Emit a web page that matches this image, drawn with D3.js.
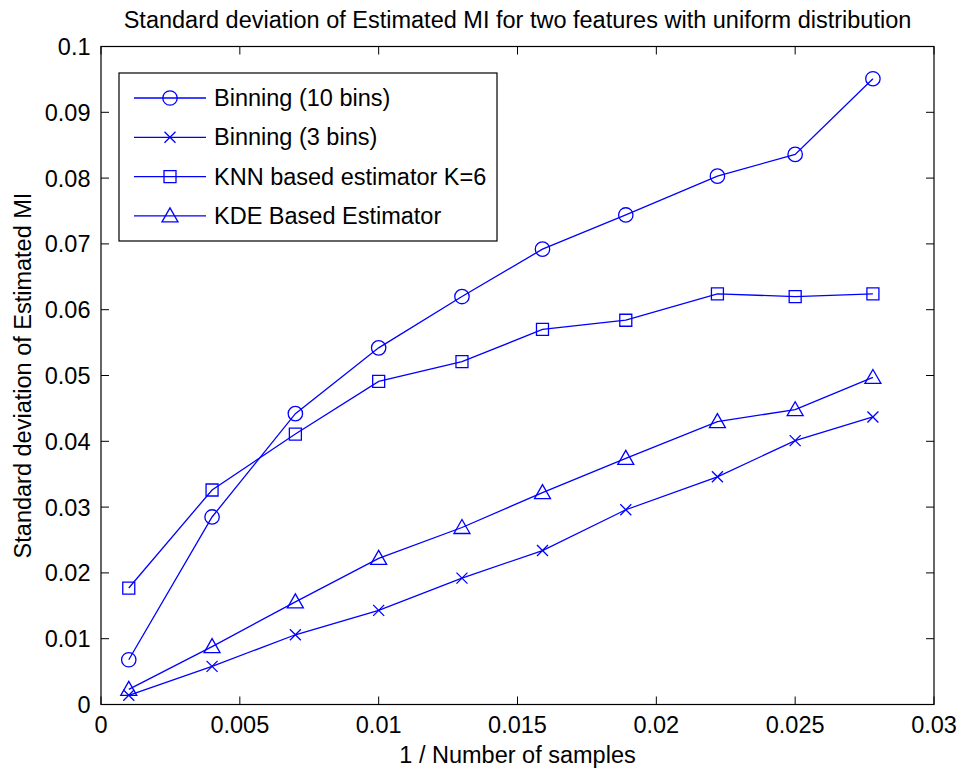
<!DOCTYPE html>
<html><head><meta charset="utf-8">
<script src="https://cdn.jsdelivr.net/npm/d3@7"></script>
<style>
body{margin:0;background:#fff;}
text{font-family:"Liberation Sans",Arial,Helvetica,sans-serif;fill:#000;}
</style></head>
<body><svg id="c" width="963" height="772"></svg>
<script>
const xValues = [0.001, 0.004, 0.007, 0.01, 0.013, 0.0159, 0.0189, 0.0222, 0.025, 0.0278];
const binning10 = [0.0068, 0.0285, 0.0442, 0.0542, 0.0620, 0.0692, 0.0744, 0.0803, 0.0836, 0.0951];
const binning3 = [0.0014, 0.0058, 0.0106, 0.0143, 0.0192, 0.0234, 0.0296, 0.0346, 0.0401, 0.0437];
const knn6 = [0.0177, 0.0326, 0.0411, 0.0491, 0.0521, 0.0570, 0.0584, 0.0624, 0.0620, 0.0624];
const kde = [0.0023, 0.0088, 0.0156, 0.0222, 0.0269, 0.0322, 0.0374, 0.0430, 0.0448, 0.0497];
const seriesNames = ["Binning (10 bins)", "Binning (3 bins)", "KNN based estimator K=6", "KDE Based Estimator"];
const markerTypes = ["circle", "cross", "square", "triangle"];
const xTicks = [0, 0.005, 0.01, 0.015, 0.02, 0.025, 0.03];
const xTickLabels = ["0", "0.005", "0.01", "0.015", "0.02", "0.025", "0.03"];
const yTicks = [0, 0.01, 0.02, 0.03, 0.04, 0.05, 0.06, 0.07, 0.08, 0.09, 0.1];
const yTickLabels = ["0", "0.01", "0.02", "0.03", "0.04", "0.05", "0.06", "0.07", "0.08", "0.09", "0.1"];
const titleText = "Standard deviation of Estimated MI for two features with uniform distribution";
const xLabel = "1 / Number of samples";
const yLabel = "Standard deviation of Estimated MI";

const seriesValues = [binning10, binning3, knn6, kde];
const blue = "#0000ff";
const svg = d3.select("#c");
const L = 101, R = 934, T = 46.5, B = 704.5;
const x = d3.scaleLinear().domain([0, 0.03]).range([L, R]);
const y = d3.scaleLinear().domain([0, 0.1]).range([B, T]);
const fs = 23.5;

svg.append("rect").attr("x", L).attr("y", T).attr("width", R - L).attr("height", B - T)
  .attr("fill", "none").attr("stroke", "#000").attr("stroke-width", 1.2);

const tl = 8;
const gx = svg.append("g");
xTicks.forEach((t, i) => {
  const px = x(t);
  gx.append("line").attr("x1", px).attr("x2", px).attr("y1", B).attr("y2", B - tl).attr("stroke", "#000");
  gx.append("line").attr("x1", px).attr("x2", px).attr("y1", T).attr("y2", T + tl).attr("stroke", "#000");
  gx.append("text").attr("x", px).attr("y", 733).attr("text-anchor", "middle")
    .style("font-size", fs + "px").text(xTickLabels[i]);
});
const gy = svg.append("g");
yTicks.forEach((t, i) => {
  const py = y(t);
  gy.append("line").attr("x1", L).attr("x2", L + tl).attr("y1", py).attr("y2", py).attr("stroke", "#000");
  gy.append("line").attr("x1", R).attr("x2", R - tl).attr("y1", py).attr("y2", py).attr("stroke", "#000");
  gy.append("text").attr("x", 90.5).attr("y", py + 8.5).attr("text-anchor", "end")
    .style("font-size", fs + "px").text(yTickLabels[i]);
});

svg.append("text").attr("x", 517.5).attr("y", 28).attr("text-anchor", "middle")
  .style("font-size", "23.5px").text(titleText);
svg.append("text").attr("x", (L + R) / 2).attr("y", 763).attr("text-anchor", "middle")
  .style("font-size", fs + "px").text(xLabel);
svg.append("text").attr("transform", `translate(31,${(T + B) / 2}) rotate(-90)`).attr("text-anchor", "middle")
  .style("font-size", fs + "px").text(yLabel);

function drawMarker(g, type, cx, cy) {
  const s = g.append("path").attr("fill", "none").attr("stroke", blue).attr("stroke-width", 1.3);
  if (type === "circle") {
    s.attr("d", d3.symbol().type(d3.symbolCircle).size(Math.PI * 7.2 * 7.2)()).attr("transform", `translate(${cx},${cy})`);
  } else if (type === "square") {
    const h = 6;
    s.attr("d", `M${cx - h},${cy - h}H${cx + h}V${cy + h}H${cx - h}Z`);
  } else if (type === "triangle") {
    const h = 8;
    s.attr("d", `M${cx},${cy - h}L${cx + h},${cy + h * 0.75}L${cx - h},${cy + h * 0.75}Z`);
  } else if (type === "cross") {
    const h = 5.5;
    s.attr("d", `M${cx - h},${cy - h}L${cx + h},${cy + h}M${cx - h},${cy + h}L${cx + h},${cy - h}`);
  }
}

const line = d3.line().x(d => x(d[0])).y(d => y(d[1]));
seriesValues.forEach((vals, si) => {
  const g = svg.append("g");
  const pts = xValues.map((xv, i) => [xv, vals[i]]);
  g.append("path").attr("d", line(pts)).attr("fill", "none").attr("stroke", blue).attr("stroke-width", 1.3);
  pts.forEach(p => drawMarker(g, markerTypes[si], x(p[0]), y(p[1])));
});

const lg = svg.append("g");
lg.append("rect").attr("x", 119).attr("y", 73).attr("width", 378).attr("height", 168)
  .attr("fill", "#fff").attr("stroke", "#000").attr("stroke-width", 1.2);
seriesNames.forEach((n, i) => {
  const ry = 98 + i * 39.3;
  lg.append("line").attr("x1", 134).attr("x2", 206).attr("y1", ry).attr("y2", ry).attr("stroke", blue).attr("stroke-width", 1.3);
  drawMarker(lg, markerTypes[i], 170, ry);
  lg.append("text").attr("x", 214).attr("y", ry + 8).style("font-size", fs + "px").text(n);
});
</script></body></html>
